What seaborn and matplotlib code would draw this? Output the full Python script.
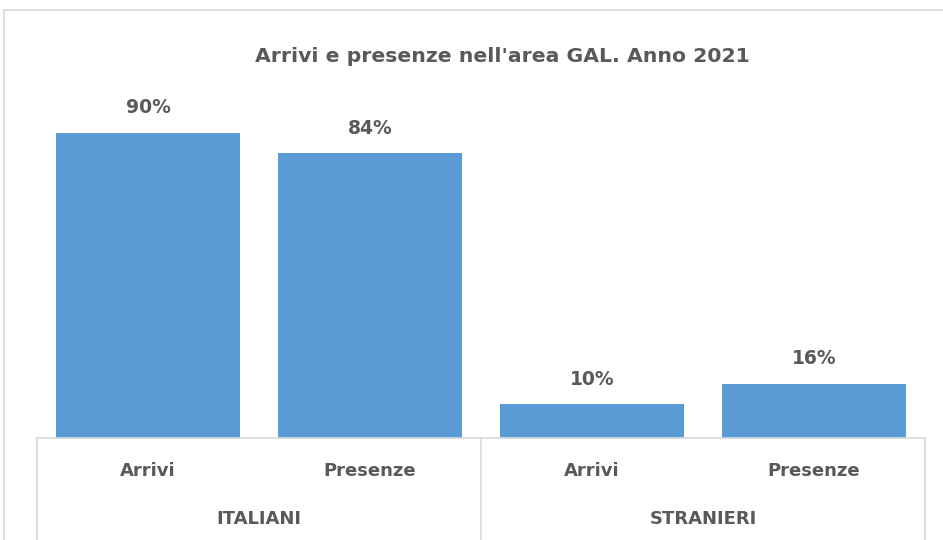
import numpy as np
import pandas as pd
import matplotlib
matplotlib.use('Agg')
import matplotlib.pyplot as plt
import seaborn as sns
from matplotlib.lines import Line2D

# data
groups = ["ITALIANI", "ITALIANI", "STRANIERI", "STRANIERI"]
measures = ["Arrivi", "Presenze", "Arrivi", "Presenze"]
values = [90, 84, 10, 16]
title = "Arrivi e presenze nell'area GAL. Anno 2021"

BAR_COLOR = "#5B9BD5"
TEXT_COLOR = "#595959"
LINE_COLOR = "#D9D9D9"

sns.set_style("white")
plt.rcParams['font.family'] = ['DejaVu Sans']

df = pd.DataFrame({"key": [f"{g}|{m}" for g, m in zip(groups, measures)],
                   "value": values})

W, H = 943, 540
fig = plt.figure(figsize=(W / 100, H / 100), dpi=100)
ax = fig.add_axes([37 / W, 1 - 438 / H, (925 - 37) / W, 339 / H])

sns.barplot(data=df, x="key", y="value", color=BAR_COLOR, width=0.83,
            saturation=1, linewidth=0, ax=ax)
ax.set_ylim(0, 100)
ax.set_xlim(-0.5, len(values) - 0.5)
ax.set_xticks([])
ax.set_yticks([])
ax.set_xlabel("")
ax.set_ylabel("")
for s in ["top", "right", "left"]:
    ax.spines[s].set_visible(False)
ax.spines["bottom"].set_color(LINE_COLOR)
ax.spines["bottom"].set_linewidth(1.2)

for i, v in enumerate(values):
    ax.annotate(f"{v}%", (i, v), xytext=(0, 18), textcoords="offset points",
                ha="center", va="center", fontsize=13.5, fontweight="bold",
                color=TEXT_COLOR)

tr = ax.get_xaxis_transform()
y_sub = -(471 - 438) / 339
y_grp = -(519 - 438) / 339
y_end = -(540 - 438) / 339
for i, m in enumerate(measures):
    ax.text(i, y_sub, m, transform=tr, ha="center", va="center",
            fontsize=13, fontweight="bold", color=TEXT_COLOR)

uniq = list(dict.fromkeys(groups))
for g in uniq:
    idx = [i for i, gg in enumerate(groups) if gg == g]
    ax.text(np.mean(idx), y_grp, g, transform=tr, ha="center", va="center",
            fontsize=13, fontweight="bold", color=TEXT_COLOR)

bounds = [-0.5, 1.5, len(values) - 0.5]
for b in bounds:
    ax.add_line(Line2D([b, b], [0, y_end], transform=tr, color=LINE_COLOR,
                       lw=1.2, clip_on=False))

# chart border (outer frame)
fig.add_artist(Line2D([4 / W, 4 / W], [0, 1 - 10 / H], transform=fig.transFigure,
                      color=LINE_COLOR, lw=1.2))
fig.add_artist(Line2D([4 / W, 1], [1 - 10 / H, 1 - 10 / H], transform=fig.transFigure,
                      color=LINE_COLOR, lw=1.2))

fig.text(502 / W, 1 - 57 / H, title, ha="center", va="center",
         fontsize=14.7, fontweight="bold", color=TEXT_COLOR)

fig.savefig("out.png", dpi=100)
